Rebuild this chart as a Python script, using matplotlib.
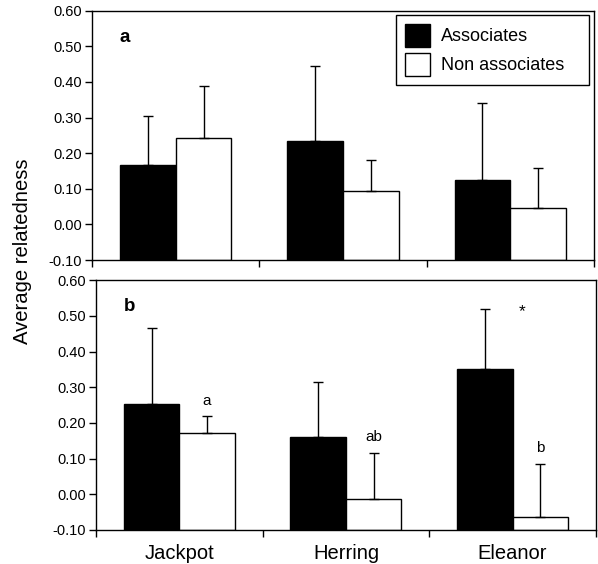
import matplotlib
matplotlib.use("Agg")
import matplotlib.pyplot as plt
import numpy as np
from matplotlib.patches import Patch

plt.rcParams['font.family'] = ['Liberation Sans', 'DejaVu Sans']

# data
sites = ['Jackpot', 'Herring', 'Eleanor']
assoc_a = [0.167, 0.234, 0.125]
assoc_a_err = [0.136, 0.211, 0.216]
non_a = [0.243, 0.094, 0.045]
non_a_err = [0.146, 0.087, 0.112]

assoc_b = [0.252, 0.161, 0.350]
assoc_b_err = [0.213, 0.153, 0.170]
non_b = [0.173, -0.012, -0.065]
non_b_err = [0.045, 0.128, 0.149]

letters_b = ['a', 'ab', 'b']
base = -0.10

fig = plt.figure(figsize=(5.98, 5.64), dpi=100)
ax1 = fig.add_axes([0.1538, 0.539, 0.8395, 0.442])
ax2 = fig.add_axes([0.1605, 0.0603, 0.836, 0.443])

x = np.arange(len(sites))
w = 1 / 3


def draw_panel(ax, assoc, assoc_err, non, non_err, tag):
    a = np.array(assoc)
    n = np.array(non)
    ax.bar(x - w / 2, a - base, w, bottom=base, color='black', edgecolor='black', linewidth=1)
    ax.bar(x + w / 2, n - base, w, bottom=base, color='white', edgecolor='black', linewidth=1)
    ax.errorbar(x - w / 2, a, yerr=[np.zeros(3), assoc_err], fmt='none', ecolor='black',
                elinewidth=1, capsize=3.3, capthick=1)
    ax.errorbar(x + w / 2, n, yerr=[np.zeros(3), non_err], fmt='none', ecolor='black',
                elinewidth=1, capsize=3.3, capthick=1)
    ax.set_xlim(-0.5, 2.5)
    ax.set_ylim(-0.10, 0.60)
    ax.set_yticks(np.arange(-0.1, 0.61, 0.1))
    ax.set_yticklabels(['%.2f' % v for v in np.arange(-0.1, 0.61, 0.1)], fontsize=10.5)
    ax.set_xticks([-0.5, 0.5, 1.5, 2.5])
    ax.set_xticklabels([])
    ax.tick_params(axis='both', direction='out', length=5, width=1, pad=2)
    for s in ax.spines.values():
        s.set_linewidth(1)
    ax.text(0.055, 0.875, tag, transform=ax.transAxes, fontsize=13.5, fontweight='bold')


draw_panel(ax1, assoc_a, assoc_a_err, non_a, non_a_err, 'a')
draw_panel(ax2, assoc_b, assoc_b_err, non_b, non_b_err, 'b')

ax2.set_xticks(x, minor=True)
ax2.set_xticklabels(sites, minor=True, fontsize=14.5)
ax2.tick_params(axis='x', which='minor', length=0, pad=10)

# letters above non-associate error bars
for i in range(3):
    top = non_b[i] + non_b_err[i]
    ax2.text(x[i] + w / 2, top + 0.025, letters_b[i], ha='center', va='bottom', fontsize=11)
ax2.text(x[2] + 0.06, 0.49, '*', ha='center', va='bottom', fontsize=12.5)

handles = [Patch(facecolor='black', edgecolor='black'),
           Patch(facecolor='white', edgecolor='black')]
leg = ax1.legend(handles, ['Associates', 'Non associates'], loc='upper right',
                 bbox_to_anchor=(0.6056, 0.983, 0.3844, 0.0), mode='expand',
                 borderaxespad=0, fontsize=13,
                 fancybox=False, edgecolor='black', handlelength=1.4, handleheight=1.6,
                 labelspacing=0.3, borderpad=0.5, handletextpad=0.6, framealpha=1)
leg.get_frame().set_linewidth(1)

fig.text(0.038, 0.554, 'Average relatedness', rotation=90, ha='center', va='center', fontsize=14.6)

fig.savefig('out.png', dpi=100)
